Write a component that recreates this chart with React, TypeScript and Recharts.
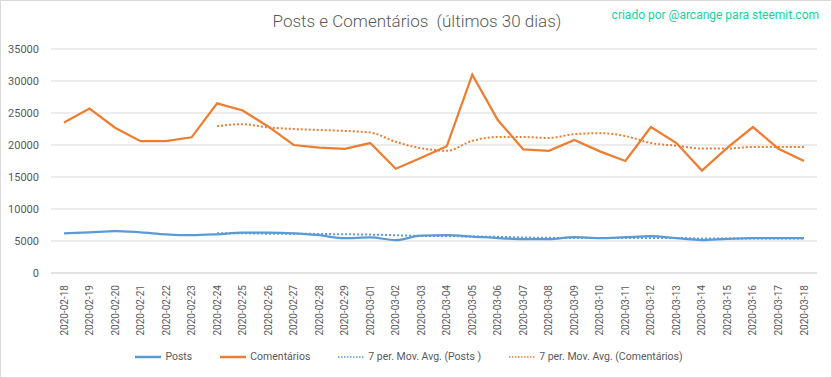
import { LineChart, Line, XAxis, YAxis, CartesianGrid, Legend } from 'recharts';

const dates = [
  '2020-02-18', '2020-02-19', '2020-02-20', '2020-02-21', '2020-02-22', '2020-02-23',
  '2020-02-24', '2020-02-25', '2020-02-26', '2020-02-27', '2020-02-28', '2020-02-29',
  '2020-03-01', '2020-03-02', '2020-03-03', '2020-03-04', '2020-03-05', '2020-03-06',
  '2020-03-07', '2020-03-08', '2020-03-09', '2020-03-10', '2020-03-11', '2020-03-12',
  '2020-03-13', '2020-03-14', '2020-03-15', '2020-03-16', '2020-03-17', '2020-03-18',
];

const posts = [
  6200, 6350, 6550, 6350, 6050, 5900, 6050, 6300, 6300, 6200, 5900, 5450,
  5550, 5150, 5850, 5900, 5700, 5450, 5300, 5300, 5600, 5450, 5600, 5750,
  5450, 5150, 5350, 5450, 5450, 5450,
];

const comentarios = [
  23500, 25700, 22700, 20600, 20600, 21200, 26500, 25400, 22900, 20000, 19600, 19400,
  20300, 16300, 18000, 19800, 31000, 23900, 19300, 19100, 20800, 19000, 17500, 22800,
  20300, 16000, 19600, 22800, 19400, 17500,
];

const mediaPosts = [
  null, null, null, null, null, null, 6200, 6200, 6150, 6150, 6100, 6050,
  6000, 5900, 5800, 5750, 5700, 5650, 5550, 5500, 5450, 5450, 5450, 5450,
  5450, 5400, 5400, 5400, 5400, 5400,
];

const mediaComentarios = [
  null, null, null, null, null, null, 22950, 23250, 22750, 22500, 22350, 22200,
  21950, 20500, 19500, 19100, 20650, 21250, 21250, 21100, 21700, 21850, 21400, 20300,
  19900, 19450, 19450, 19700, 19700, 19700,
];

const yTicks = [0, 5000, 10000, 15000, 20000, 25000, 30000, 35000];

const data = dates.map((d, i) => ({
  date: d,
  posts: posts[i],
  comentarios: comentarios[i],
  mediaPosts: mediaPosts[i],
  mediaComentarios: mediaComentarios[i],
}));

const FONT = 'Roboto, "Liberation Sans", sans-serif';
const BLUE = '#5B9BD5';
const ORANGE = '#ED7D31';

function DateTick(props: any) {
  const { x, y, payload } = props;
  return (
    <g transform={`translate(${x},${y})`}>
      <text
        transform="rotate(-90)"
        x={-4}
        y={0}
        dy="0.35em"
        textAnchor="end"
        fill="#595959"
        fontSize={10}
        fontFamily={FONT}
      >
        {payload.value}
      </text>
    </g>
  );
}

const legendItems = [
  { label: 'Posts', color: BLUE, dashed: false },
  { label: 'Comentários', color: ORANGE, dashed: false },
  { label: '7 per. Mov. Avg. (Posts )', color: BLUE, dashed: true },
  { label: '7 per. Mov. Avg. (Comentários)', color: ORANGE, dashed: true },
];

function LegendBox() {
  return (
    <div
      style={{
        display: 'flex',
        justifyContent: 'center',
        alignItems: 'center',
        gap: 28,
        height: 30,
        paddingTop: 5,
        boxSizing: 'border-box',
        fontFamily: FONT,
        fontSize: 10.5,
        color: '#595959',
      }}
    >
      {legendItems.map((it) => (
        <div key={it.label} style={{ display: 'flex', alignItems: 'center' }}>
          <svg width={26} height={6} style={{ marginRight: 4 }}>
            <line
              x1={0}
              y1={3}
              x2={26}
              y2={3}
              stroke={it.color}
              strokeWidth={it.dashed ? 1.5 : 2.5}
              strokeDasharray={it.dashed ? '1.5 1.5' : undefined}
            />
          </svg>
          <span>{it.label}</span>
        </div>
      ))}
    </div>
  );
}

export default function App() {
  return (
    <div
      style={{
        position: 'absolute',
        left: 0,
        top: 0,
        width: 830,
        height: 376,
        border: '1px solid #d9d9d9',
        background: '#fff',
      }}
    >
      <div
        style={{
          position: 'absolute',
          left: 0,
          width: 832,
          top: 10,
          textAlign: 'center',
          fontFamily: FONT,
          fontSize: 17,
          fontWeight: 300,
          color: '#595959',
        }}
      >
        Posts e Comentários&nbsp; (últimos 30 dias)
      </div>
      <div
        style={{
          position: 'absolute',
          right: 12,
          top: 7,
          fontFamily: FONT,
          fontSize: 12,
          color: '#17D1A0',
        }}
      >
        criado por @arcange para steemit.com
      </div>
      <LineChart
        width={830}
        height={376}
        data={data}
        margin={{ top: 48, right: 14, left: 0, bottom: 8 }}
      >
        <CartesianGrid vertical={false} stroke="#d9d9d9" strokeWidth={1} />
        <XAxis
          dataKey="date"
          interval={0}
          tick={<DateTick />}
          tickLine={false}
          axisLine={{ stroke: '#d9d9d9' }}
          height={66}
          padding={{ left: 13, right: 13 }}
        />
        <YAxis
          domain={[0, 35000]}
          ticks={yTicks}
          width={50}
          tickLine={false}
          axisLine={false}
          tick={{ fill: '#595959', fontSize: 11, fontFamily: FONT }}
          tickMargin={6}
        />
        <Legend verticalAlign="bottom" content={() => <LegendBox />} />
        <Line
          type="monotone"
          dataKey="posts"
          name="Posts"
          stroke={BLUE}
          strokeWidth={2.25}
          dot={false}
          isAnimationActive={false}
        />
        <Line
          type="linear"
          dataKey="comentarios"
          name="Comentários"
          stroke={ORANGE}
          strokeWidth={2.25}
          dot={false}
          isAnimationActive={false}
        />
        <Line
          type="monotone"
          dataKey="mediaPosts"
          name="7 per. Mov. Avg. (Posts )"
          stroke={BLUE}
          strokeWidth={2}
          strokeDasharray="2 2"
          dot={false}
          isAnimationActive={false}
        />
        <Line
          type="monotone"
          dataKey="mediaComentarios"
          name="7 per. Mov. Avg. (Comentários)"
          stroke={ORANGE}
          strokeWidth={2}
          strokeDasharray="2 2"
          dot={false}
          isAnimationActive={false}
        />
      </LineChart>
    </div>
  );
}
